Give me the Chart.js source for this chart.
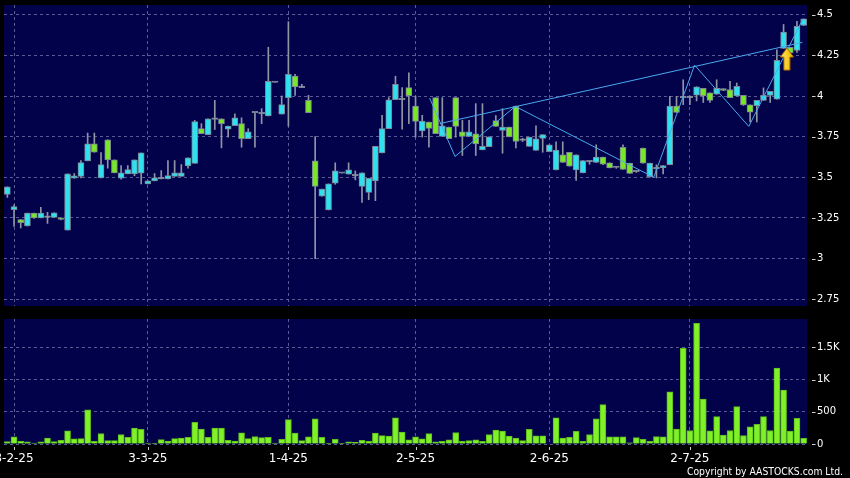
<!DOCTYPE html>
<html><head><meta charset="utf-8">
<script src="https://cdn.jsdelivr.net/npm/chart.js@4.4.1/dist/chart.umd.min.js"></script>
<style>
html,body{margin:0;padding:0;background:#000;}
#wrap{position:relative;width:850px;height:478px;background:#000;overflow:hidden;}
#c1{position:absolute;left:0;top:0;}
#c2{position:absolute;left:0;top:312px;}
#copy{position:absolute;right:7px;top:465px;color:#fff;font-family:'DejaVu Sans Condensed','DejaVu Sans',sans-serif;font-stretch:condensed;font-size:10.3px;white-space:nowrap;}
</style></head><body>
<div id="wrap">
<canvas id="c1" width="850" height="312"></canvas>
<canvas id="c2" width="850" height="166"></canvas>
<div id="copy">Copyright by AASTOCKS.com Ltd.</div>
</div>
<script>
const categories = ['28-1-25',
'3-2-25','4-2-25','5-2-25','6-2-25','7-2-25','10-2-25','11-2-25','12-2-25','13-2-25','14-2-25','17-2-25','18-2-25','19-2-25','20-2-25','21-2-25','24-2-25','25-2-25','26-2-25','27-2-25','28-2-25',
'3-3-25','4-3-25','5-3-25','6-3-25','7-3-25','10-3-25','11-3-25','12-3-25','13-3-25','14-3-25','17-3-25','18-3-25','19-3-25','20-3-25','21-3-25','24-3-25','25-3-25','26-3-25','27-3-25','28-3-25','31-3-25',
'1-4-25','2-4-25','3-4-25','7-4-25','8-4-25','9-4-25','10-4-25','11-4-25','14-4-25','15-4-25','16-4-25','17-4-25','22-4-25','23-4-25','24-4-25','25-4-25','28-4-25','29-4-25','30-4-25',
'2-5-25','6-5-25','7-5-25','8-5-25','9-5-25','12-5-25','13-5-25','14-5-25','15-5-25','16-5-25','19-5-25','20-5-25','21-5-25','22-5-25','23-5-25','26-5-25','27-5-25','28-5-25','29-5-25','30-5-25',
'2-6-25','3-6-25','4-6-25','5-6-25','6-6-25','9-6-25','10-6-25','11-6-25','12-6-25','13-6-25','16-6-25','17-6-25','18-6-25','19-6-25','20-6-25','23-6-25','24-6-25','25-6-25','26-6-25','27-6-25','30-6-25',
'2-7-25','3-7-25','4-7-25','7-7-25','8-7-25','9-7-25','10-7-25','11-7-25','14-7-25','15-7-25','16-7-25','17-7-25','18-7-25','21-7-25','22-7-25','23-7-25','24-7-25','25-7-25'];

const openP = [3.395,3.30,3.24,3.20,3.28,3.25,3.253,3.253,3.25,3.175,
3.494,3.506,3.601,3.706,3.496,3.731,3.607,3.494,3.521,3.521,
3.525,3.459,3.478,3.49,3.49,3.506,3.506,3.570,3.586,3.799,
3.762,3.856,3.860,3.796,3.817,3.830,3.737,3.897,3.89,3.877,
4.083,3.889,3.990,4.122,4.052,3.973,3.601,3.383,3.299,3.463,
3.525,3.519,3.509,3.444,3.407,3.478,3.650,3.799,3.977,3.977,
4.052,3.938,3.786,3.840,3.990,3.751,3.809,3.990,3.780,3.751,
3.768,3.669,3.688,3.849,3.788,3.809,3.938,3.727,3.690,3.665,
3.739,3.657,3.546,3.638,3.654,3.546,3.527,3.595,3.591,3.624,
3.589,3.560,3.685,3.587,3.535,3.679,3.504,3.552,3.558,3.577,
3.938,3.99,3.99,4.005,4.047,4.02,4.011,4.045,4.04,4.0,
4.004,3.945,3.94,3.973,4.004,3.98,4.293,4.30,4.28,4.434];

const highP = [3.441,3.331,3.24,3.28,3.28,3.315,3.284,3.282,3.25,3.521,
3.523,3.603,3.772,3.772,3.652,3.731,3.607,3.572,3.572,3.607,
3.65,3.478,3.523,3.541,3.603,3.603,3.578,3.619,3.850,3.830,
3.860,3.973,3.860,3.815,3.891,3.866,3.799,3.897,3.922,4.30,
4.083,4.0,4.457,4.134,4.072,4.004,3.751,3.428,3.459,3.589,
3.525,3.589,3.539,3.527,3.494,3.690,3.881,3.99,4.122,4.052,
4.142,4.0,3.881,3.840,3.990,3.990,3.809,3.990,3.850,3.850,
3.953,3.953,3.749,3.88,3.922,3.809,3.938,3.74,3.747,3.817,
3.762,3.700,3.718,3.718,3.654,3.638,3.603,3.60,3.700,3.624,
3.589,3.565,3.70,3.587,3.54,3.679,3.587,3.577,3.572,3.998,
3.998,4.10,4.0,4.057,4.047,4.02,4.10,4.045,4.09,4.08,
4.004,3.945,3.973,4.05,4.029,4.284,4.44,4.30,4.46,4.475];

const lowP = [3.376,3.198,3.188,3.20,3.247,3.25,3.216,3.253,3.237,3.175,
3.494,3.496,3.601,3.654,3.496,3.556,3.527,3.488,3.521,3.509,
3.459,3.459,3.478,3.49,3.49,3.506,3.506,3.556,3.586,3.768,
3.762,3.794,3.681,3.747,3.817,3.685,3.737,3.685,3.83,3.877,
4.083,3.889,3.815,4.004,4.052,3.897,2.999,3.383,3.299,3.457,
3.525,3.519,3.484,3.346,3.362,3.356,3.650,3.799,3.977,3.796,
3.830,3.747,3.747,3.685,3.768,3.751,3.737,3.747,3.634,3.751,
3.634,3.669,3.688,3.813,3.648,3.749,3.681,3.72,3.690,3.665,
3.654,3.657,3.546,3.591,3.568,3.48,3.527,3.58,3.591,3.578,
3.558,3.555,3.548,3.523,3.53,3.587,3.50,3.496,3.521,3.577,
3.899,3.947,3.947,3.97,3.96,3.96,4.011,4.033,3.99,4.0,
3.942,3.84,3.84,3.973,3.96,3.98,4.293,4.25,4.268,4.434];

const closeP = [3.441,3.32,3.22,3.28,3.25,3.28,3.253,3.282,3.24,3.521,
3.509,3.591,3.706,3.654,3.578,3.607,3.527,3.527,3.548,3.607,
3.65,3.478,3.496,3.49,3.51,3.527,3.527,3.619,3.842,3.768,
3.860,3.856,3.830,3.815,3.866,3.737,3.780,3.897,3.89,4.091,
4.083,3.947,4.134,4.056,4.052,3.897,3.444,3.428,3.459,3.539,
3.525,3.546,3.509,3.527,3.494,3.690,3.799,3.977,4.072,3.977,
4.002,3.844,3.846,3.801,3.768,3.817,3.737,3.813,3.751,3.780,
3.706,3.690,3.749,3.813,3.809,3.749,3.720,3.727,3.747,3.737,
3.762,3.700,3.667,3.591,3.568,3.638,3.603,3.595,3.624,3.580,
3.558,3.560,3.548,3.523,3.535,3.587,3.587,3.552,3.572,3.938,
3.899,3.99,3.99,4.057,4.0,3.973,4.047,4.035,3.99,4.06,
3.945,3.90,3.973,4.004,4.029,4.219,4.393,4.265,4.428,4.475];

const volume = [37,110,42,32,15,32,90,37,58,205,
79,84,531,42,163,53,53,147,105,247,
226,15,10,68,47,84,90,105,337,231,
105,247,247,58,47,174,84,116,100,105,
15,74,379,168,53,110,389,105,10,74,
10,32,26,58,42,168,131,121,405,184,
63,110,79,163,32,42,63,179,42,53,
63,42,147,216,200,121,90,53,226,126,
126,0,405,90,105,195,42,147,389,610,
110,110,110,20,100,74,42,116,110,810,
231,1483,210,1873,699,205,426,137,210,579,
131,268,305,426,210,1178,836,200,400,89];

const priceTicks = [2.75,3,3.25,3.5,3.75,4,4.25,4.5];
const volTicks = [0,500,1000,1500];
const volTickLabels = ['0','500','1K','1.5K'];
const xTickLabels = ['3-2-25','3-3-25','1-4-25','2-5-25','2-6-25','2-7-25'];

// trend lines: [position in bar units, price]
const zigzag = [[63.1,3.988],[66.9,3.628],[75.9,3.936],[96.6,3.50],[102.7,4.19],[110.8,3.813],[118.8,4.467]];
const trendLine = [[64.6,3.830],[118.8,4.33]];
const signalIdx = [116.5];
const signalPrice = [4.295];

const NAVY = '#02024b';
const GRID = '#5a5a96';
const CYAN = '#30e0ee';
const GREEN = '#7ae62a';
const DASH = '#9aa0b0';
const EDGE = '#7d8595';
const WICK = '#9095a5';
const VOLC = '#80f028';
const LINEC = '#4aa8ee';
const FONT = 'DejaVu Sans';

const tickIdx = xTickLabels.map(l => categories.indexOf(l));

const bgPlugin = {
  id: 'bg',
  beforeDraw(chart) {
    const {ctx, chartArea: a} = chart;
    ctx.save();
    ctx.fillStyle = '#000';
    ctx.fillRect(0, 0, chart.width, chart.height);
    ctx.fillStyle = NAVY;
    ctx.fillRect(a.left, a.top, a.right - a.left, a.bottom - a.top);
    ctx.restore();
  }
};
const yDashPlugin = {
  id: 'ydash',
  afterDraw(chart) {
    const {ctx, chartArea: a} = chart;
    const s = chart.scales.y;
    ctx.save();
    ctx.strokeStyle = '#d0d0d0';
    ctx.lineWidth = 1;
    s.ticks.forEach(t => {
      const y = Math.round(s.getPixelForValue(t.value)) + 0.5;
      ctx.beginPath(); ctx.moveTo(a.right + 5, y); ctx.lineTo(a.right + 8.5, y); ctx.stroke();
    });
    ctx.restore();
  }
};
const xMarkPlugin = {
  id: 'xmark',
  afterDraw(chart) {
    const {ctx, chartArea: a} = chart;
    const s = chart.scales.x;
    ctx.save();
    ctx.strokeStyle = '#d0d0d0';
    ctx.lineWidth = 1;
    tickIdx.forEach(i => {
      const x = Math.round(s.getPixelForValue(i)) + 0.5;
      ctx.beginPath(); ctx.moveTo(x, a.bottom + 3); ctx.lineTo(x, a.bottom + 6); ctx.stroke();
    });
    ctx.restore();
  }
};
const arrowPlugin = {
  id: 'arrow',
  afterDatasetsDraw(chart) {
    const {ctx} = chart;
    const xs = chart.scales.x, ys = chart.scales.y;
    ctx.save();
    signalIdx.forEach((si, k) => {
      const x = xs.getPixelForValue(si), y = ys.getPixelForValue(signalPrice[k]);
      ctx.beginPath();
      ctx.moveTo(x, y);
      ctx.lineTo(x + 6.5, y + 9);
      ctx.lineTo(x + 3, y + 9);
      ctx.lineTo(x + 3, y + 22);
      ctx.lineTo(x - 3, y + 22);
      ctx.lineTo(x - 3, y + 9);
      ctx.lineTo(x - 6.5, y + 9);
      ctx.closePath();
      const g = ctx.createLinearGradient(x - 6, 0, x + 6, 0);
      g.addColorStop(0, '#ffe85a'); g.addColorStop(1, '#f0b400');
      ctx.fillStyle = g;
      ctx.fill();
      ctx.strokeStyle = '#b06a00';
      ctx.lineWidth = 1;
      ctx.stroke();
    });
    ctx.restore();
  }
};

const bodyColor = ctx => {
  const i = ctx.dataIndex;
  if (closeP[i] > openP[i]) return CYAN;
  if (closeP[i] < openP[i]) return GREEN;
  return DASH;
};

const noPad = s => { s.paddingLeft = 0; s.paddingRight = 0; s.paddingTop = 0; s.paddingBottom = 0; };

const xScale = (showLabels, h) => ({
  type: 'linear', offset: false, min: -0.5, max: categories.length - 0.5,
  afterBuildTicks: s => { s.ticks = tickIdx.map(v => ({value: v})); },
  afterFit: s => { s.height = h; noPad(s); },
  grid: { offset: false, drawTicks: false, color: GRID, lineWidth: 1 },
  border: { display: false, dash: [3, 3] },
  ticks: {
    display: showLabels, autoSkip: false, maxRotation: 0, minRotation: 0, color: '#fff', padding: 8,
    font: { family: FONT, size: 12 },
    callback: v => categories[v]
  }
});

new Chart(document.getElementById('c1'), {
  type: 'bar',
  data: {
    datasets: [
      { type: 'line', data: zigzag.map(p => ({x: p[0], y: p[1]})), borderColor: LINEC, borderWidth: 1, pointRadius: 0, tension: 0, order: 0 },
      { type: 'line', data: trendLine.map(p => ({x: p[0], y: p[1]})), borderColor: LINEC, borderWidth: 1, pointRadius: 0, tension: 0, order: 0 },
      { data: categories.map((c, i) => ({x: i, y: [openP[i], closeP[i]]})), backgroundColor: bodyColor, borderColor: EDGE, borderWidth: 1, borderSkipped: false, barThickness: 6, minBarLength: 1.5, grouped: false, order: 1 },
      { data: categories.map((c, i) => ({x: i, y: [lowP[i], highP[i]]})), backgroundColor: WICK, borderWidth: 0, barThickness: 1, grouped: false, order: 2 }
    ]
  },
  options: {
    responsive: false, animation: false, devicePixelRatio: 1, events: [],
    layout: { padding: { left: 4, top: 5, right: 0, bottom: 6 } },
    plugins: { legend: { display: false }, tooltip: { enabled: false } },
    scales: {
      x: xScale(false, 0),
      y: {
        position: 'right', min: 2.708, max: 4.56,
        afterBuildTicks: s => { s.ticks = priceTicks.map(v => ({value: v})); },
        afterFit: s => { s.width = 43; noPad(s); },
        grid: { color: GRID, drawTicks: false },
        border: { display: false, dash: [3, 3] },
        ticks: { color: '#fff', padding: 10, font: { family: FONT, size: 10 }, callback: v => String(v) }
      }
    }
  },
  plugins: [bgPlugin, yDashPlugin, arrowPlugin]
});

new Chart(document.getElementById('c2'), {
  type: 'bar',
  data: {
    datasets: [
      { data: categories.map((c, i) => ({x: i, y: volume[i]})), backgroundColor: VOLC, borderColor: '#5cbc1c', borderWidth: 1, barThickness: 6, borderSkipped: 'bottom' }
    ]
  },
  options: {
    responsive: false, animation: false, devicePixelRatio: 1, events: [],
    layout: { padding: { left: 4, top: 7, right: 0, bottom: 0 } },
    plugins: { legend: { display: false }, tooltip: { enabled: false } },
    scales: {
      x: xScale(true, 34),
      y: {
        position: 'right', min: 0, max: 1940,
        afterBuildTicks: s => { s.ticks = volTicks.map(v => ({value: v})); },
        afterFit: s => { s.width = 43; noPad(s); },
        grid: { color: GRID, drawTicks: false },
        border: { display: false, dash: [3, 3] },
        ticks: { color: '#fff', padding: 10, font: { family: FONT, size: 10 },
          callback: v => volTickLabels[volTicks.indexOf(v)] }
      }
    }
  },
  plugins: [bgPlugin, yDashPlugin, xMarkPlugin]
});
</script>
</body></html>
